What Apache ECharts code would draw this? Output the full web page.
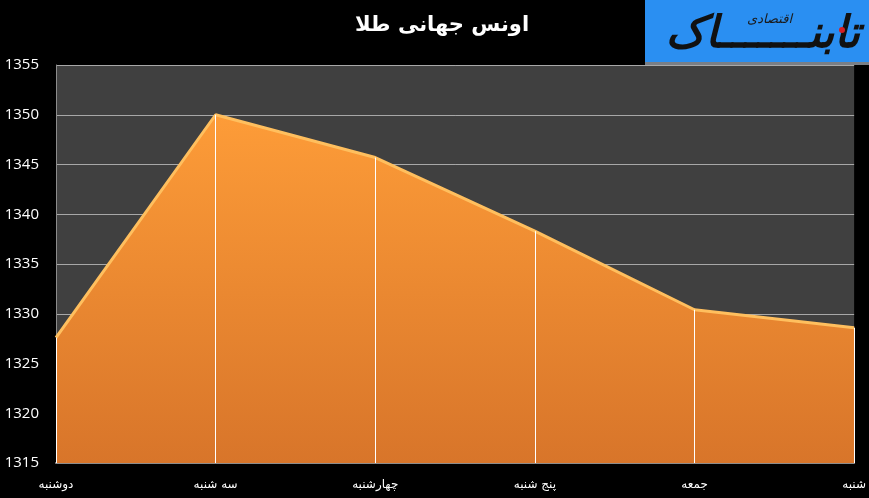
<!DOCTYPE html>
<html>
<head>
<meta charset="utf-8">
<script src="https://cdn.jsdelivr.net/npm/echarts@6/dist/echarts.min.js"></script>
<style>
html, body { margin: 0; padding: 0; background: #000; }
#chart { width: 869px; height: 498px; }
</style>
</head>
<body>
<div id="chart"></div>
<script>
// روزهای هفته
var days = ['دوشنبه', 'سه شنبه', 'چهارشنبه', 'پنج شنبه', 'جمعه', 'شنبه'];
// قیمت اونس (دلار)
var prices = [1327.6, 1350, 1345.7, 1338.3, 1330.4, 1328.6];
var yMin = 1315, yMax = 1355, yStep = 5;

var chart = echarts.init(document.getElementById('chart'));

// خطوط عمودی سفید از نقطه تا محور
var dropLines = days.map(function (d, i) {
    return [{ coord: [d, prices[i]] }, { coord: [d, yMin] }];
});

var option = {
    backgroundColor: '#000',
    animation: false,
    title: {
        text: 'اونس جهانی طلا',
        left: 437,
        top: 10,
        textAlign: 'center',
        textStyle: { color: '#fff', fontSize: 21, fontWeight: 'bold', fontFamily: 'DejaVu Sans' }
    },
    graphic: [
        { type: 'rect', shape: { x: 645, y: 0, width: 224, height: 62 }, style: { fill: '#2a8ff2' } },
        { type: 'rect', shape: { x: 645, y: 62, width: 224, height: 3 }, style: { fill: '#7a7f86' } },
        { type: 'text', style: { x: 860, y: 36, text: 'تابنـــــــاک', fill: '#111', align: 'right', verticalAlign: 'middle', font: 'bold italic 44px "DejaVu Sans"' } },
        { type: 'text', style: { x: 792, y: 20, text: 'اقتصادی', fill: '#1a1a1a', align: 'right', verticalAlign: 'middle', font: 'italic 13px "DejaVu Sans"' } },
        { type: 'circle', shape: { cx: 842, cy: 30, r: 3 }, style: { fill: '#d41e24' } }
    ],
    grid: { left: 56, right: 14, top: 65, bottom: 35, show: true, backgroundColor: '#404040', borderWidth: 0 },
    xAxis: {
        type: 'category',
        data: days,
        boundaryGap: false,
        axisLine: { lineStyle: { color: '#8c8c8c', width: 2 } },
        axisTick: { show: false },
        axisLabel: { color: '#fff', fontSize: 12, fontFamily: 'DejaVu Sans', margin: 16 },
        splitLine: { show: false }
    },
    yAxis: {
        type: 'value',
        min: yMin,
        max: yMax,
        interval: yStep,
        axisLine: { show: true, lineStyle: { color: '#8c8c8c', width: 1 } },
        axisTick: { show: false },
        axisLabel: { color: '#fff', fontSize: 15, fontFamily: 'Open Sans', margin: 17, formatter: function (v) { return String(v); } },
        splitLine: { lineStyle: { color: '#a8a8a8', width: 1 } }
    },
    series: [{
        type: 'line',
        data: prices,
        smooth: false,
        symbol: 'none',
        lineStyle: { color: '#ffbf5e', width: 3 },
        areaStyle: {
            opacity: 1,
            origin: 'start',
            color: new echarts.graphic.LinearGradient(0, 0, 0, 1, [
                { offset: 0, color: '#fd9c38' },
                { offset: 1, color: '#d8752a' }
            ])
        },
        markLine: {
            silent: true,
            symbol: 'none',
            label: { show: false },
            lineStyle: { color: '#fff', width: 1, type: 'solid' },
            data: dropLines
        }
    }]
};
chart.setOption(option);
</script>
</body>
</html>
